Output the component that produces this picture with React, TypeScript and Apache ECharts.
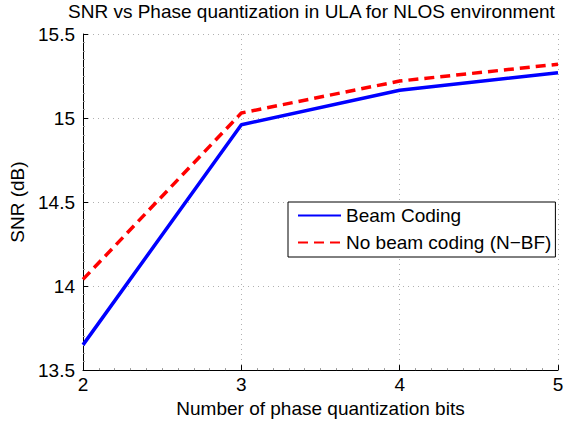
import React, { useEffect, useRef } from "react";
import * as echarts from "echarts";

const bits = [2, 3, 4, 5];
const beamCoding = [13.65, 14.96, 15.165, 15.27];
const noBeamCoding = [14.04, 15.03, 15.22, 15.32];
const seriesNames = ["Beam Coding", "No beam coding (N\u2212BF)"];

const FONT = "'Liberation Sans', Arial, Helvetica, sans-serif";
const FS = 19;

export default function App() {
  const ref = useRef<HTMLDivElement>(null);
  useEffect(() => {
    if (!ref.current) return;
    const chart = echarts.init(ref.current, undefined, { renderer: "svg" });
    const gridLine = { show: true, lineStyle: { color: "#b0b0b0", type: [1, 4], width: 1 } };
    chart.setOption({
      animation: false,
      backgroundColor: "#ffffff",
      textStyle: { fontFamily: FONT },
      title: {
        text: "SNR vs Phase quantization in ULA for NLOS environment",
        left: 68,
        top: 2,
        padding: 0,
        textStyle: { fontSize: FS, fontWeight: "normal", color: "#000", fontFamily: FONT },
      },
      grid: { left: 83, top: 34, width: 475, height: 343, containLabel: false },
      legend: {
        left: 288,
        top: 202,
        orient: "vertical",
        data: seriesNames,
        itemWidth: 43,
        itemHeight: 18,
        itemGap: 8,
        padding: [4, 4, 5, 9],
        borderColor: "#000",
        borderWidth: 1,
        backgroundColor: "#fff",
        borderRadius: 0,
        itemStyle: { opacity: 0 },
        textStyle: { fontSize: FS, color: "#000", fontFamily: FONT, padding: [0, 0, 0, 0] },
      },
      xAxis: {
        type: "value",
        min: 2,
        max: 5,
        interval: 1,
        name: "Number of phase quantization bits",
        nameLocation: "middle",
        nameGap: 23,
        nameTextStyle: { fontSize: FS, color: "#000", fontFamily: FONT },
        axisLine: { lineStyle: { color: "#000", width: 1 } },
        axisTick: { inside: true, length: 5, lineStyle: { color: "#000" } },
        minorTick: { show: true, splitNumber: 10, length: 2, lineStyle: { color: "#999" } },
        axisLabel: { fontSize: FS, color: "#000", margin: 5, fontFamily: FONT },
        splitLine: gridLine,
      },
      yAxis: {
        type: "value",
        min: 13.5,
        max: 15.5,
        interval: 0.5,
        name: "SNR (dB)",
        nameLocation: "middle",
        nameGap: 50,
        nameTextStyle: { fontSize: FS, color: "#000", fontFamily: FONT },
        axisLine: { show: true, lineStyle: { color: "#000", width: 1 } },
        axisTick: { show: true, inside: true, length: 5, lineStyle: { color: "#000" } },
        minorTick: { show: true, splitNumber: 10, length: 2, lineStyle: { color: "#999" } },
        axisLabel: { fontSize: FS, color: "#000", margin: 8, fontFamily: FONT },
        splitLine: gridLine,
      },
      series: [
        {
          name: seriesNames[0],
          type: "line",
          data: bits.map((b, i) => [b, beamCoding[i]]),
          symbol: "none",
          lineStyle: { color: "#0000ff", width: 3.5, type: "solid" },
          itemStyle: { color: "#0000ff" },
        },
        {
          name: seriesNames[1],
          type: "line",
          data: bits.map((b, i) => [b, noBeamCoding[i]]),
          symbol: "none",
          lineStyle: { color: "#ff0000", width: 3.5, type: [10, 6] },
          itemStyle: { color: "#ff0000" },
        },
      ],
    });
    return () => chart.dispose();
  }, []);
  return (
    <div
      ref={ref}
      style={{ position: "absolute", left: 0, top: 0, width: 576, height: 423 }}
    />
  );
}
